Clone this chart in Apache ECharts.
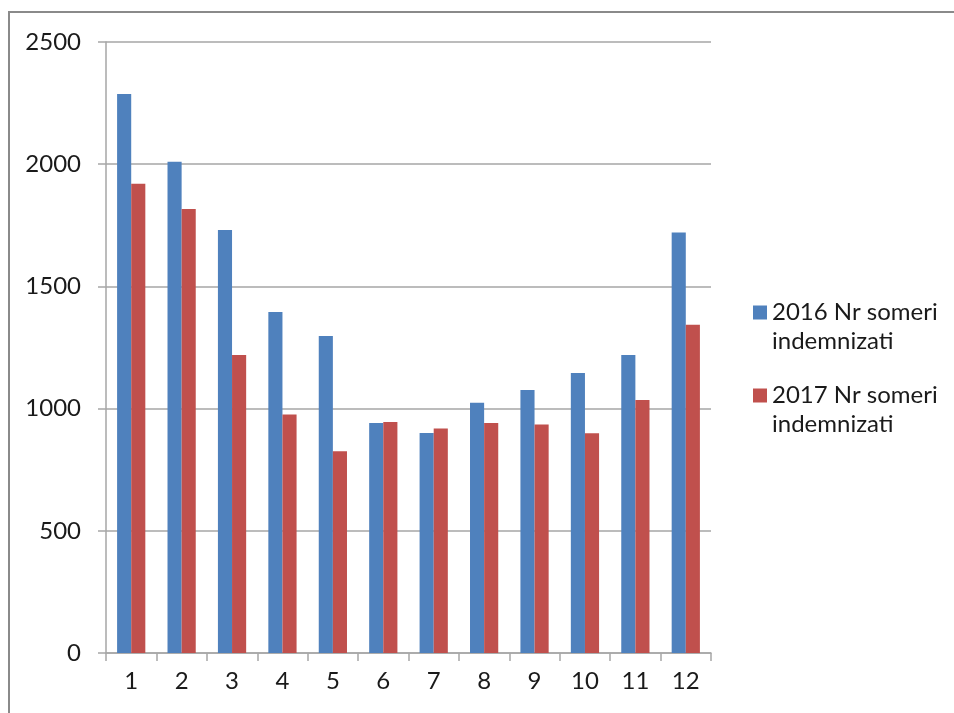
<!DOCTYPE html>
<html>
<head>
<meta charset="utf-8">
<script src="https://cdn.jsdelivr.net/npm/echarts@6/dist/echarts.min.js"></script>
<style>
html,body{margin:0;padding:0;background:#fff;}
#chart{width:954px;height:713px;}
</style>
</head>
<body>
<div id="chart"></div>
<script>
const categories = ['1','2','3','4','5','6','7','8','9','10','11','12'];
const series2016 = [2287, 2010, 1731, 1395, 1297, 941, 900, 1024, 1076, 1146, 1219, 1721];
const series2017 = [1920, 1817, 1219, 976, 825, 945, 919, 941, 935, 899, 1035, 1343];
const seriesNames = ['2016 Nr someri indemnizati', '2017 Nr someri indemnizati'];
const yTicks = [0, 500, 1000, 1500, 2000, 2500];

const FONT = 'Lato';
const chart = echarts.init(document.getElementById('chart'));
chart.setOption({
  animation: false,
  backgroundColor: '#ffffff',
  graphic: [{
    type: 'rect',
    shape: { x: 9, y: 12, width: 1000, height: 800 },
    style: { fill: 'none', stroke: '#8a8a8a', lineWidth: 2 },
    silent: true
  }],
  grid: { left: 106, top: 42, width: 605, height: 611, containLabel: false },
  legend: {
    orient: 'vertical',
    left: 748,
    top: 264,
    itemWidth: 14,
    itemHeight: 14,
    itemGap: -4,
    icon: 'rect',
    data: seriesNames,
    formatter: function (n) { return '\n' + n.replace(' indemnizati', '\nindemnizati'); },
    textStyle: { fontFamily: FONT, fontSize: 24, color: '#1a1a1a', lineHeight: 29 }
  },
  xAxis: {
    type: 'category',
    data: categories,
    axisLine: { lineStyle: { color: '#a6a6a6', width: 1.5 } },
    axisTick: { show: true, length: 8, lineStyle: { color: '#a6a6a6', width: 1.5 } },
    axisLabel: { fontFamily: FONT, fontSize: 24, color: '#1a1a1a', margin: 16 }
  },
  yAxis: {
    type: 'value',
    min: yTicks[0],
    max: yTicks[yTicks.length - 1],
    interval: 500,
    axisLine: { show: true, lineStyle: { color: '#a6a6a6', width: 1.5 } },
    axisTick: { show: true, length: 8, lineStyle: { color: '#a6a6a6', width: 1.5 } },
    splitLine: { lineStyle: { color: '#a6a6a6', width: 1.5 } },
    axisLabel: { fontFamily: FONT, fontSize: 24, color: '#1a1a1a', margin: 25,
      formatter: function (v) { return String(v); } }
  },
  series: [
    { name: seriesNames[0], type: 'bar', data: series2016, barGap: '0%', barCategoryGap: '44%',
      itemStyle: { color: '#4f81bd' } },
    { name: seriesNames[1], type: 'bar', data: series2017,
      itemStyle: { color: '#c0504d' } }
  ]
});
</script>
</body>
</html>
